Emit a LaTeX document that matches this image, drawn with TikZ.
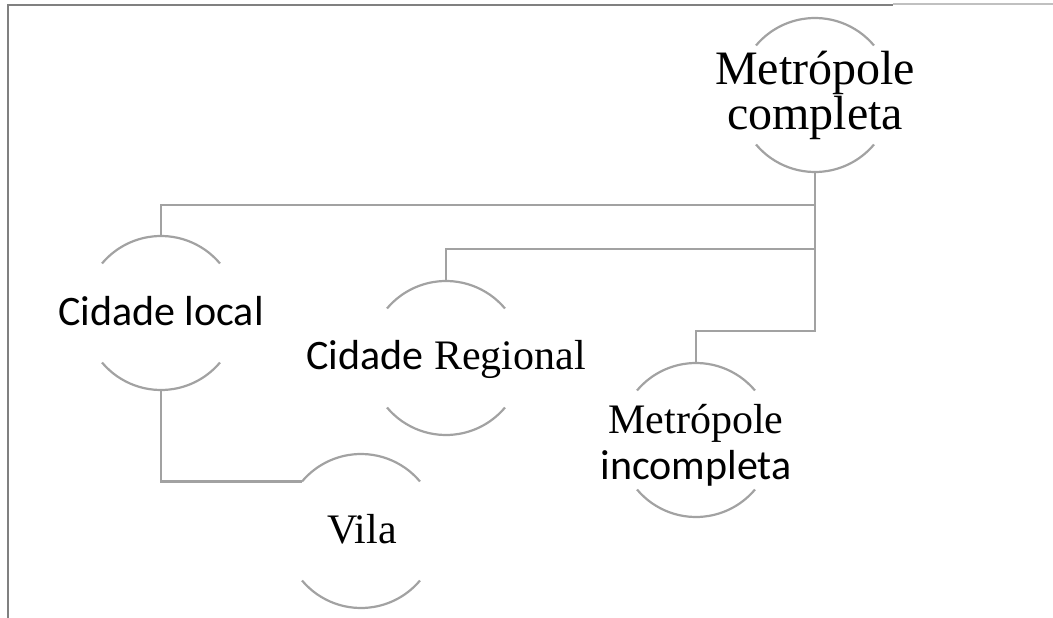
\documentclass[tikz,border=0pt]{standalone}
\usepackage{fontspec}
\setmainfont{Liberation Serif}
\newfontfamily\calibri{Carlito}
\definecolor{linegray}{HTML}{A2A2A2}
\definecolor{framegray}{HTML}{808080}
\definecolor{paleframe}{HTML}{C0C0C0}

\begin{document}
\begin{tikzpicture}[x=1pt,y=1pt]
\tikzstyle{every node}+=[inner sep=0pt]
\tikzstyle{ring}=[circle,minimum size=154pt,outer sep=0pt]
\tikzstyle{arcline}=[linegray,line width=2.2pt]
\tikzstyle{link}=[linegray,line width=2.2pt]
\tikzstyle{big}=[font=\fontsize{48}{45}\selectfont,align=center]
\tikzstyle{mid}=[font=\fontsize{42}{46}\selectfont,align=center]
\useasboundingbox (0,0) rectangle (1053,-618);
% frame
\draw [framegray,line width=2pt] (8,-618) -- (8,-5) -- (893,-5);
\draw [paleframe,line width=2pt] (893,-4.5) -- (1053,-4.5);
% rings
\node [ring] (mc) at (815,-95) {};
\node [ring] (cl) at (161,-313) {};
\node [ring] (cr) at (446,-358) {};
\node [ring] (mi) at (696,-440) {};
\node [ring] (vi) at (361,-531) {};
\foreach \n in {mc,cl,cr,mi,vi} {
  \draw [arcline] (\n.40) arc (40:140:77);
  \draw [arcline] (\n.220) arc (220:320:77);
}
% links
\draw [link] (mc.south) |- ([yshift=31pt]cl.north) -- (cl.north);
\draw [link] (mc.south) |- ([yshift=32pt]cr.north) -- (cr.north);
\draw [link] (mc.south) |- ([yshift=32pt]mi.north) -- (mi.north);
\draw [link] (cl.south) |- (vi.140);
% texts
\node [big] (mct) at (mc) {Metrópole\\completa};
\node [mid,anchor=base] (clt) at (161,-325) {\calibri Cidade local};
\node [mid,anchor=base] (crt) at (446,-369) {{\calibri Cidade} Regional};
\node [mid] (mit) at ([yshift=-5pt]mi.center) {Metrópole\\{\calibri incompleta}};
\node [mid,anchor=base] (vit) at (362,-543) {Vila};
\end{tikzpicture}
\end{document}
